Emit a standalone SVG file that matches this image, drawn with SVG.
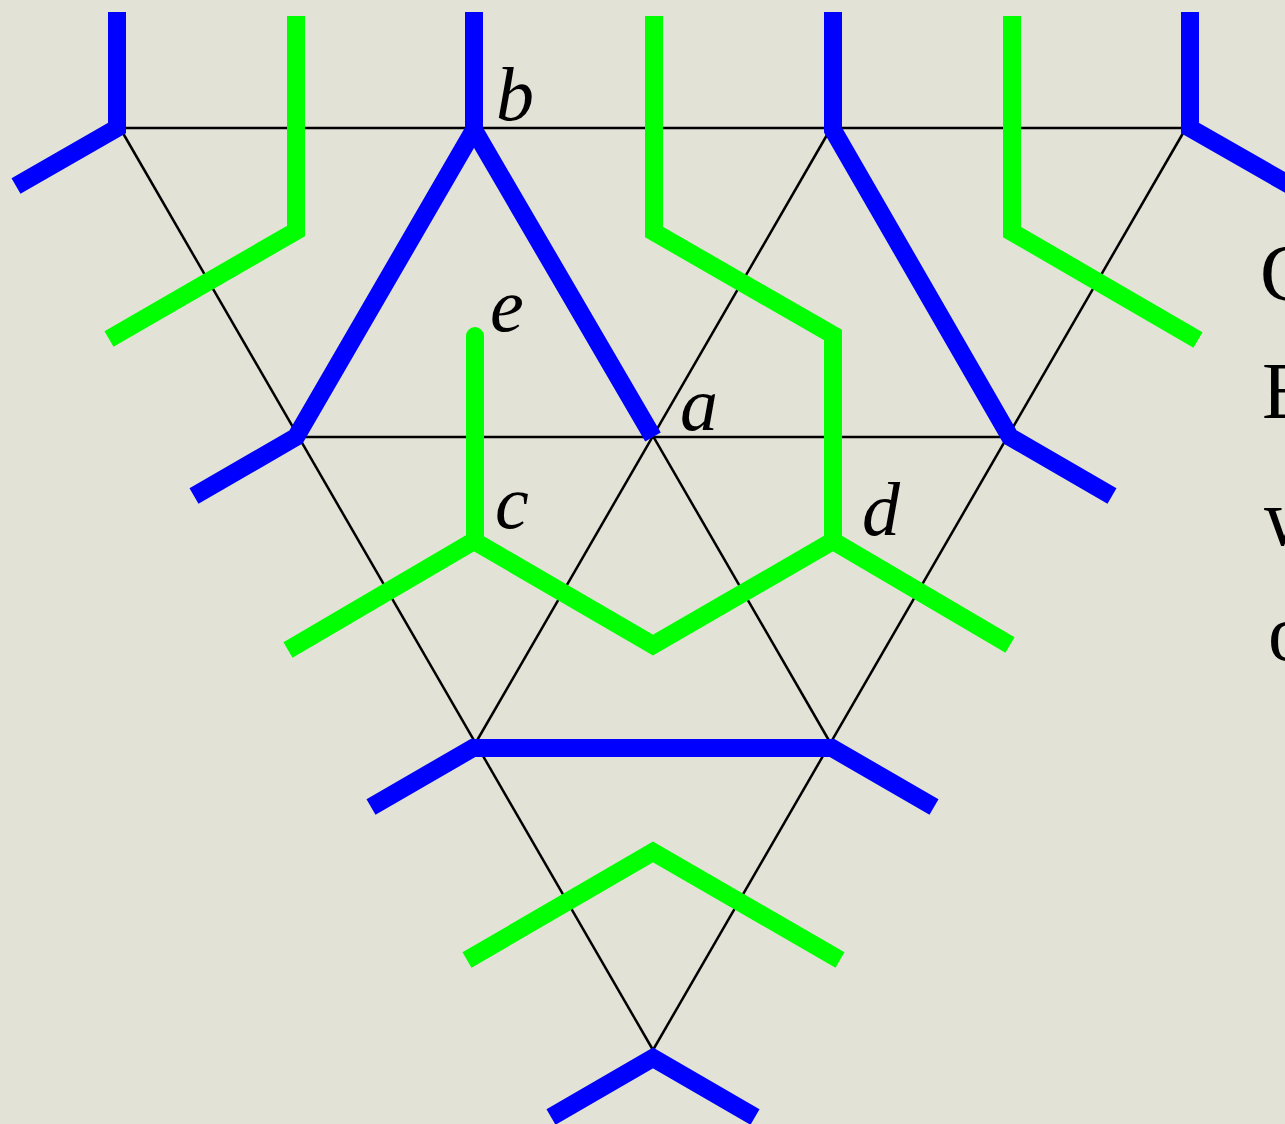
<svg xmlns="http://www.w3.org/2000/svg" width="1285" height="1124" viewBox="0 0 1285 1124">
  <style>
    .grid { stroke: #000; stroke-width: 2.5; fill: none; }
    .blue { stroke: #0000ff; stroke-width: 18; fill: none; stroke-linejoin: miter; stroke-linecap: butt; }
    .green { stroke: #00ff00; stroke-width: 18; fill: none; stroke-linejoin: miter; stroke-linecap: butt; }
    .lbl { font-family: "Liberation Serif", "DejaVu Serif", serif; font-style: italic; font-size: 76px; fill: #000; }
    .txt { font-family: "Liberation Serif", "DejaVu Serif", serif; font-size: 80px; fill: #000; }
  </style>
  <rect id="background" x="0" y="0" width="1285" height="1124" fill="#e2e3d6"/>

  <g id="connectors">
    <g id="grid">
      <line class="grid" x1="120" y1="128" x2="1186" y2="128"/>
      <line class="grid" x1="297" y1="437" x2="1009" y2="437"/>
      <line class="grid" x1="475" y1="744" x2="831" y2="744"/>
      <line class="grid" x1="120" y1="128" x2="653" y2="1050"/>
      <line class="grid" x1="475" y1="128" x2="831" y2="744"/>
      <line class="grid" x1="831" y1="128" x2="1009" y2="437"/>
      <line class="grid" x1="1186" y1="128" x2="653" y2="1050"/>
      <line class="grid" x1="831" y1="128" x2="475" y2="744"/>
      <line class="grid" x1="475" y1="128" x2="297" y2="437"/>
    </g>

    <g id="blue-strands">
      <polyline id="blue-1" class="blue" points="117,12 117,128 16,186"/>
      <polyline id="blue-2" class="blue" points="194,496 296,437 474,130 653,437"/>
      <line id="blue-2-stem" class="blue" x1="474" y1="12" x2="474" y2="131"/>
      <polyline id="blue-3" class="blue" points="833,12 833,130 1010,437 1112,496"/>
      <polyline id="blue-4" class="blue" points="1190,12 1190,128 1300,191"/>
      <polyline id="blue-5" class="blue" points="371,807 473,748 832,748 934,807"/>
      <polyline id="blue-6" class="blue" points="551,1117 653,1058 755,1117"/>
    </g>

    <g id="green-strands">
      <polyline id="green-1" class="green" points="296,16 296,231 109,339"/>
      <polyline id="green-2" class="green" points="654,16 654,232 833,335 833,541"/>
      <polyline id="green-3" class="green" points="288,650 474,541 653,645 833,541 1010,645"/>
      <line id="green-e" class="green" x1="475" y1="542" x2="475" y2="336"/>
      <circle id="green-e-end" cx="475" cy="336" r="9" fill="#00ff00"/>
      <polyline id="green-4" class="green" points="1012,16 1012,232 1198,340"/>
      <polyline id="green-5" class="green" points="467,960 653,852 840,960"/>
    </g>
  </g>

  <g id="label-b"><text class="lbl" x="496" y="120">b</text></g>
  <g id="label-e"><text class="lbl" x="490" y="331">e</text></g>
  <g id="label-a"><text class="lbl" x="680" y="430">a</text></g>
  <g id="label-c"><text class="lbl" x="495" y="528">c</text></g>
  <g id="label-d"><text class="lbl" x="862" y="535">d</text></g>

  <g id="side-text">
    <text class="txt" x="1260" y="300">C</text>
    <text class="txt" x="1262" y="418">E</text>
    <text class="txt" x="1264" y="545">w</text>
    <text class="txt" x="1268" y="660">o</text>
  </g>
</svg>
